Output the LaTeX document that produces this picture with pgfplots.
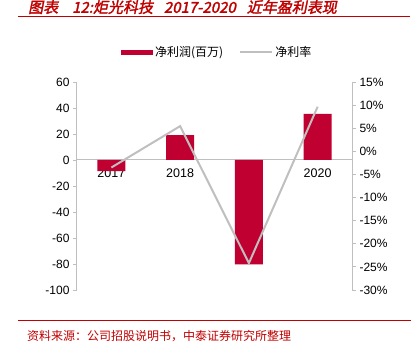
\documentclass[border=0pt]{standalone}
\usepackage{pgfplots}
\pgfplotsset{compat=1.18}
\usepackage{fontspec}
\setmainfont{Liberation Sans}
\newfontfamily\cjk{Noto Sans CJK SC}
\newfontfamily\cjktitle{Noto Sans CJK SC}[FakeSlant=0.2,FakeBold=2]
\definecolor{barred}{HTML}{C00030}
\definecolor{linegrey}{HTML}{BFBFBF}
\definecolor{titlered}{HTML}{C00000}
\definecolor{axgrey}{HTML}{BFBFBF}
\begin{document}
\begin{tikzpicture}
\useasboundingbox (0pt,0pt) rectangle (413pt,-355pt);
\node[anchor=base west, text=titlered, font=\cjktitle\fontsize{15}{15}\selectfont, inner sep=0pt] at (28pt,-12.8pt) {图表\hspace{14pt}12:炬光科技\hspace{11pt}2017-2020\hspace{11pt}近年盈利表现};
\draw[titlered, line width=1pt] (18pt,-16.5pt) -- (410pt,-16.5pt);
\draw[titlered, line width=1pt] (18pt,-321pt) -- (411pt,-321pt);
\node[anchor=base west, text=titlered, font=\cjk\fontsize{12}{12}\selectfont, inner sep=0pt] at (27pt,-341pt) {资料来源：公司招股说明书，中泰证券研究所整理};

\begin{axis}[
  at={(77pt,-290pt)}, anchor=south west,
  width=275pt, height=208pt, scale only axis,
  xmin=-0.5, xmax=3.5, ymin=-100, ymax=60,
  axis x line=middle, axis y line*=left,
  axis line style={axgrey, line width=1pt, -},
  every inner x axis line/.append style={-},
  xtick={0,1,2,3}, xticklabels={2017,2018,2019,2020},
  x tick label style={font=\fontsize{12.5}{12.5}\selectfont, anchor=north, yshift=-1pt},
  extra x ticks={0.5,1.5,2.5}, extra x tick labels={},
  extra x tick style={major tick length=4pt, tick align=outside, tick style={axgrey, line width=0.8pt}},
  ytick={-100,-80,...,60},
  y tick label style={font=\fontsize{12}{12}\selectfont},
  ytick pos=left,
  tick align=outside,
  major tick length=4pt,
  tick style={axgrey, line width=0.8pt},
  x tick style={draw=none},
  /pgf/number format/assume math mode=true,
  legend style={at={(0.51,1.144)}, anchor=center, draw=none, fill=none,
    font=\cjk\fontsize{12}{12}\selectfont,
    /tikz/every even column/.append style={column sep=14pt}},
  legend columns=2,
  clip=false,
]
\addplot[ybar, bar width=28pt, fill=barred, draw=none,
  legend image code/.code={\fill[barred] (0pt,-2.5pt) rectangle (32pt,2.5pt);}]
  coordinates {(0,-8.6) (1,19.2) (2,-80.2) (3,35.4)};
\addlegendentry{净利润(百万)}
\addlegendimage{linegrey, line width=2pt, legend image code/.code={\draw[linegrey, line width=2pt] (0pt,0pt) -- (32pt,0pt);}}
\addlegendentry{净利率}
\end{axis}

\begin{axis}[
  at={(77pt,-290pt)}, anchor=south west,
  width=275pt, height=208pt, scale only axis,
  xmin=-0.5, xmax=3.5, ymin=-30, ymax=15,
  axis x line=none, axis y line*=right,
  axis line style={axgrey, line width=1pt, -},
  ytick={-30,-25,...,15},
  yticklabel={\pgfmathprintnumber{\tick}\%},
  y tick label style={font=\fontsize{12}{12}\selectfont},
  ytick pos=right,
  tick align=outside,
  major tick length=4pt,
  tick style={axgrey, line width=0.8pt},
  /pgf/number format/assume math mode=true,
  clip=false,
]
\addplot[linegrey, line width=2pt, mark=none] coordinates {(0,-3.5) (1,5.45) (2,-24.2) (3,9.65)};
\end{axis}
\end{tikzpicture}
\end{document}
